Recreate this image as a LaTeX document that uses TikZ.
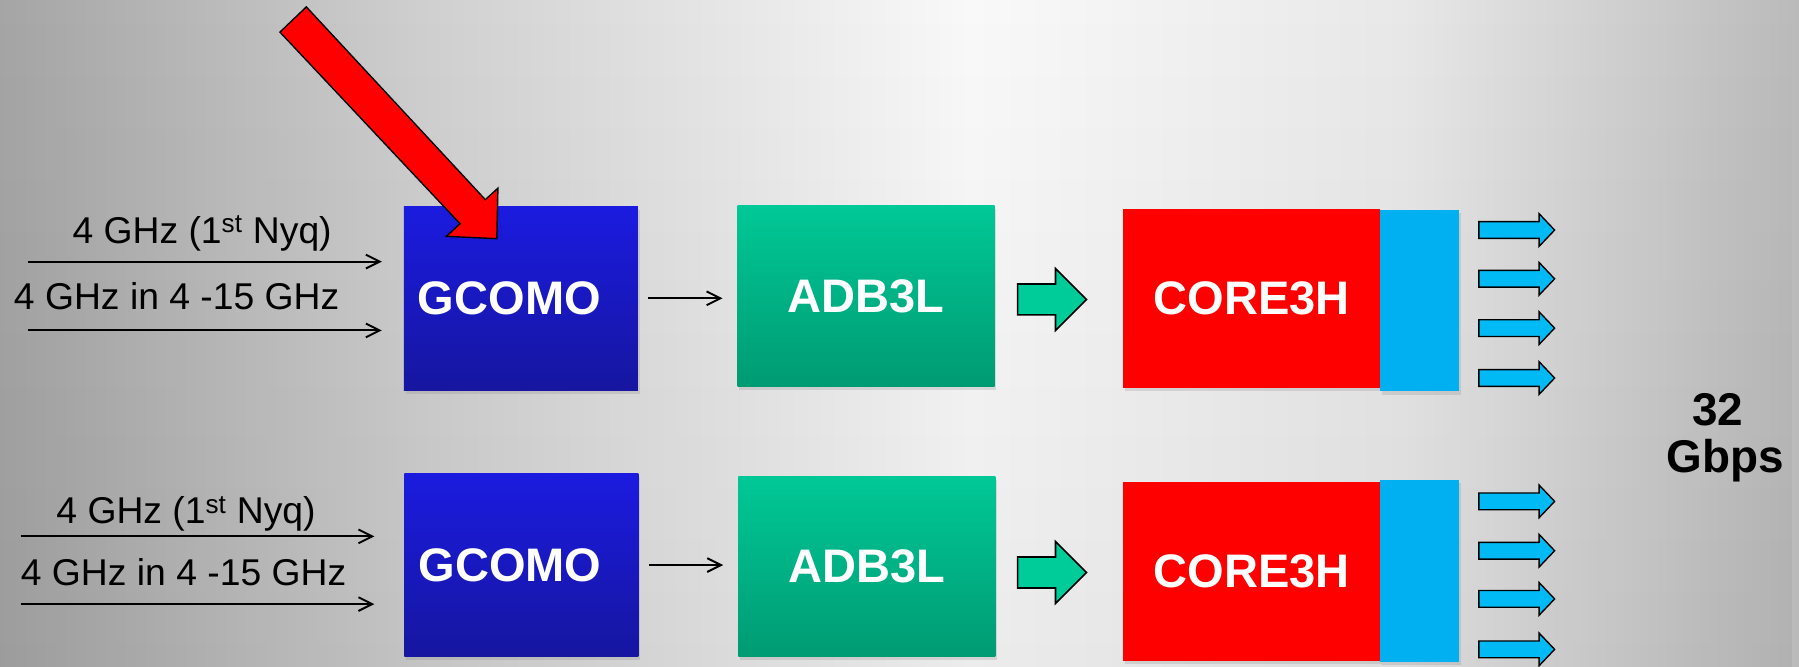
\documentclass[tikz,border=0pt]{standalone}
\usepackage{fontspec}
\setmainfont{Liberation Sans}
\usetikzlibrary{arrows.meta,shadows,fadings}
\definecolor{bgA}{RGB}{165,165,165}
\definecolor{bgB}{RGB}{208,208,208}
\definecolor{bgC}{RGB}{249,249,249}
\definecolor{bgD}{RGB}{232,232,232}
\definecolor{bgE}{RGB}{186,186,186}
\definecolor{gcTop}{RGB}{27,27,224}
\definecolor{gcBot}{RGB}{22,22,160}
\definecolor{adTop}{RGB}{0,200,150}
\definecolor{adBot}{RGB}{0,155,115}
\definecolor{coRed}{RGB}{255,0,0}
\definecolor{stripBlue}{RGB}{0,176,240}
\definecolor{smallArr}{RGB}{0,186,245}
\definecolor{greenArr}{RGB}{0,204,153}
\pgfdeclarehorizontalshading{bgh}{100bp}{color(0bp)=(bgA); color(25bp)=(bgA); color(37bp)=(bgB); color(52bp)=(bgC); color(64bp)=(bgD); color(75bp)=(bgE); color(100bp)=(bgE)}
\newcommand{\blkarr}[7]{%
  \draw[#1] (#2,#5-#6) -- (#3,#5-#6) -- (#3,#5-#7) -- (#4,#5) -- (#3,#5+#7) -- (#3,#5+#6) -- (#2,#5+#6) -- cycle;}
\begin{document}
\begin{tikzpicture}[x=1pt,y=-1pt,
  shad/.style={drop shadow={opacity=0.22,shadow xshift=1.5pt,shadow yshift=-3pt}},
  boxtext/.style={text=white,font=\bfseries\fontsize{41}{41}\selectfont,inner sep=0pt},
  gcbox/.style={rectangle,boxtext,top color=gcTop,bottom color=gcBot,minimum width=204pt,minimum height=160pt,shad},
  adbox/.style={rectangle,boxtext,top color=adTop,bottom color=adBot,minimum width=224pt,minimum height=157pt,shad},
  corebox/.style={rectangle,boxtext,fill=coRed,minimum width=224pt,minimum height=156pt,shad},
  stripbox/.style={rectangle,fill=stripBlue,minimum width=69pt,inner sep=0pt,shad},
  lbl/.style={font=\fontsize{32.5}{32.5}\selectfont,inner sep=0pt,text=black},
  rate/.style={font=\bfseries\fontsize{40}{40}\selectfont,inner sep=0pt,text=black},
  conn/.style={line width=1.7pt,-{Straight Barb[length=12pt,width=12pt,line width=1.7pt]}},
  smallarrow/.style={draw=black,line width=1.2pt,fill=smallArr,line join=miter},
  greenarrow/.style={draw=black,line width=1.4pt,fill=greenArr,line join=miter},
  redarrow/.style={draw=black,line width=1.2pt,fill=coRed,line join=miter}]
\useasboundingbox (0,0) rectangle (1568,581);
% background
\shade[shading=bgh] (0,0) rectangle (1568,581);
\fill[black,fill opacity=0.05,path fading=north] (0,0) rectangle (1568,581);

% boxes, top row
\node[gcbox] (gc1) at (454,260) {GCOMO\hspace*{20pt}};
\node[adbox] (ad1) at (755,258) {ADB3L};
\node[corebox] (co1) at (1091,260) {CORE3H};
\node[stripbox,minimum height=158pt] (st1) at (1237.5,262) {};

% boxes, bottom row
\node[gcbox,minimum height=159pt] (gc2) at (454.5,492.5) {GCOMO\hspace*{20pt}};
\node[adbox] (ad2) at (755.5,494) {ADB3L};
\node[corebox] (co2) at (1091,498) {CORE3H};
\node[stripbox,minimum height=159pt] (st2) at (1237.5,497.5) {};

% input labels
\node[lbl,anchor=base west] (l1) at (63,212) {4 GHz (1\textsuperscript{st} Nyq)};
\node[lbl,anchor=base west] (l2) at (12,270) {4 GHz in 4 -15 GHz};
\node[lbl,anchor=base west] (l3) at (49,456.5) {4 GHz (1\textsuperscript{st} Nyq)};
\node[lbl,anchor=base west] (l4) at (18,510.5) {4 GHz in 4 -15 GHz};

% input arrows
\coordinate (i1) at (24,228);
\coordinate (i2) at (24,288);
\coordinate (i3) at (18,467.5);
\coordinate (i4) at (18,526.5);
\draw[conn,shorten >=19pt] (i1) -- (i1 -| gc1.west);
\draw[conn,shorten >=19pt] (i2) -- (i2 -| gc1.west);
\draw[conn,shorten >=26pt] (i3) -- (i3 -| gc2.west);
\draw[conn,shorten >=26pt] (i4) -- (i4 -| gc2.west);

% GCOMO -> ADB3L
\draw[conn,shorten <=9pt,shorten >=13pt] (gc1.east) -- (gc1.east -| ad1.west);
\draw[conn,shorten <=9pt,shorten >=13pt] (gc2.east) -- (gc2.east -| ad2.west);

% green block arrows
\blkarr{greenarrow}{887}{920}{947}{261}{13.5}{27}
\blkarr{greenarrow}{887}{920}{947}{499}{13.5}{27}

% small blue output arrows
\foreach \yy in {200.5,243,286,329.5,437,480,522,566}{
  \blkarr{smallarrow}{1289}{1341.5}{1355}{\yy}{7.3}{14.2}
}

% rate text
\node[rate,anchor=base] (r1) at (1497,370.5) {32};
\node[rate,anchor=base] (r2) at (1503.5,412) {Gbps};

% red pointer arrow
\draw[redarrow] (244,28) -- (401,195) -- (389,206) -- (433,208) -- (434,164) -- (423,174) -- (267,6) -- cycle;
\end{tikzpicture}
\end{document}
